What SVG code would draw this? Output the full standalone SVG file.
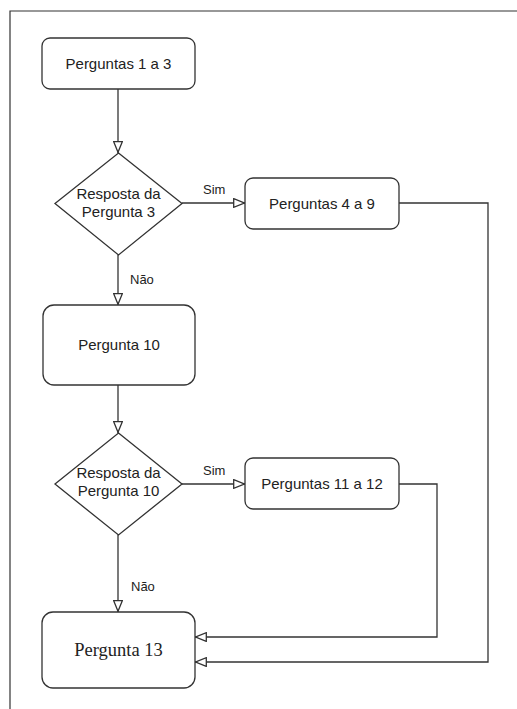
<svg xmlns="http://www.w3.org/2000/svg" width="517" height="709" viewBox="0 0 517 709">
<style>
.n{fill:#fff;stroke:#333;stroke-width:1.3}
.t{font-family:"Liberation Sans",Arial,sans-serif;font-size:15px;fill:#222;text-anchor:middle}
.ts{font-family:"Liberation Serif","Times New Roman",serif;font-size:18.5px;fill:#222;text-anchor:middle}
.l{font-family:"Liberation Sans",Arial,sans-serif;font-size:13px;fill:#222}
.c{fill:none;stroke:#333;stroke-width:1.3}
</style>
<defs>
<marker id="a" viewBox="0 0 12 10" refX="12" refY="5" markerWidth="12" markerHeight="10" markerUnits="userSpaceOnUse" orient="auto">
<path d="M0.7,0.7 L11.3,5 L0.7,9.3 Z" fill="#fff" stroke="#333" stroke-width="1.3"/>
</marker>
</defs>
<rect width="517" height="709" fill="#fff"/>
<path d="M10,709 V11 H517" fill="none" stroke="#333" stroke-width="1.2"/>
<g id="connectors">
<path class="c" d="M118,89 V153" marker-end="url(#a)"/>
<path class="c" d="M182,203 H245" marker-end="url(#a)"/>
<path class="c" d="M118,255 V305" marker-end="url(#a)"/>
<path class="c" d="M118,385 V433" marker-end="url(#a)"/>
<path class="c" d="M182,484 H245" marker-end="url(#a)"/>
<path class="c" d="M118,535 V612" marker-end="url(#a)"/>
<path class="c" d="M399,484 H437 V637 H195" marker-end="url(#a)"/>
<path class="c" d="M399,203 H488 V662 H195" marker-end="url(#a)"/>
<text class="l" x="203" y="194">Sim</text>
<text class="l" x="130" y="284">Não</text>
<text class="l" x="203" y="475">Sim</text>
<text class="l" x="131" y="591">Não</text>
</g>
<g id="n1"><rect class="n" x="42" y="38" width="153" height="51" rx="8"/><text class="t" x="118.5" y="69">Perguntas 1 a 3</text></g>
<g id="d1"><path class="n" d="M118.5,153 L182,203.5 L118.5,255 L55,203.5 Z"/><text class="t" x="118.5" y="199">Resposta da</text><text class="t" x="118.5" y="217">Pergunta 3</text></g>
<g id="n2"><rect class="n" x="245" y="178" width="154" height="51" rx="8"/><text class="t" x="322" y="209">Perguntas 4 a 9</text></g>
<g id="n3"><rect class="n" x="43" y="305" width="152" height="80" rx="11"/><text class="t" x="119" y="350">Pergunta 10</text></g>
<g id="d2"><path class="n" d="M118.5,433 L182,484 L118.5,535 L55,484 Z"/><text class="t" x="118.5" y="478">Resposta da</text><text class="t" x="118.5" y="496">Pergunta 10</text></g>
<g id="n4"><rect class="n" x="245" y="458" width="154" height="51" rx="8"/><text class="t" x="322" y="489">Perguntas 11 a 12</text></g>
<g id="n5"><rect class="n" x="42" y="612" width="153" height="76" rx="11"/><text class="ts" x="118.5" y="656">Pergunta 13</text></g>
</svg>
